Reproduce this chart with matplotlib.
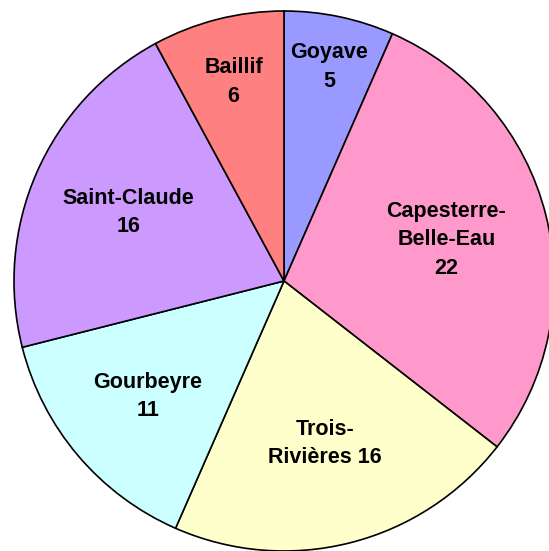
import numpy as np
import matplotlib
matplotlib.use("Agg")
import matplotlib.pyplot as plt

# communes, clockwise from the top
communes = ["Goyave", "Capesterre-\nBelle-Eau", "Trois-\nRivières", "Gourbeyre",
            "Saint-Claude", "Baillif"]
values = [5, 22, 16, 11, 16, 6]
colors = ["#9999FF", "#FF99CC", "#FFFFCC", "#CCFFFF", "#CC99FF", "#FF8080"]
# label distance from centre (fraction of radius), as placed in the original
label_dist = [0.81, 0.62, 0.62, 0.66, 0.63, 0.76]

plt.rcParams["font.family"] = ["Liberation Sans", "DejaVu Sans"]

fig = plt.figure(figsize=(5.49, 5.51), dpi=100)
ax = fig.add_axes([0, 0, 1, 1])

wedges, _ = ax.pie(values, colors=colors, startangle=90, counterclock=False,
                   radius=1.0,
                   wedgeprops=dict(edgecolor="black", linewidth=1.2))

for w, name, v, d in zip(wedges, communes, values, label_dist):
    ang = np.deg2rad((w.theta1 + w.theta2) / 2)
    if name.startswith("Trois"):
        txt = f"{name} {v}"
    else:
        txt = f"{name}\n{v}"
    ax.text(d * np.cos(ang), d * np.sin(ang), txt, ha="center", va="center",
            fontsize=15.5, fontweight="bold", linespacing=1.45)

# pie centre sits at (284, 281) px with radius 270 px; right and bottom are clipped
scale = 270.0
ax.set_xlim(-284 / scale, (549 - 284) / scale)
ax.set_ylim(-(551 - 281) / scale, 281 / scale)
ax.set_aspect("auto")
ax.axis("off")

fig.savefig("out.png", dpi=100)
